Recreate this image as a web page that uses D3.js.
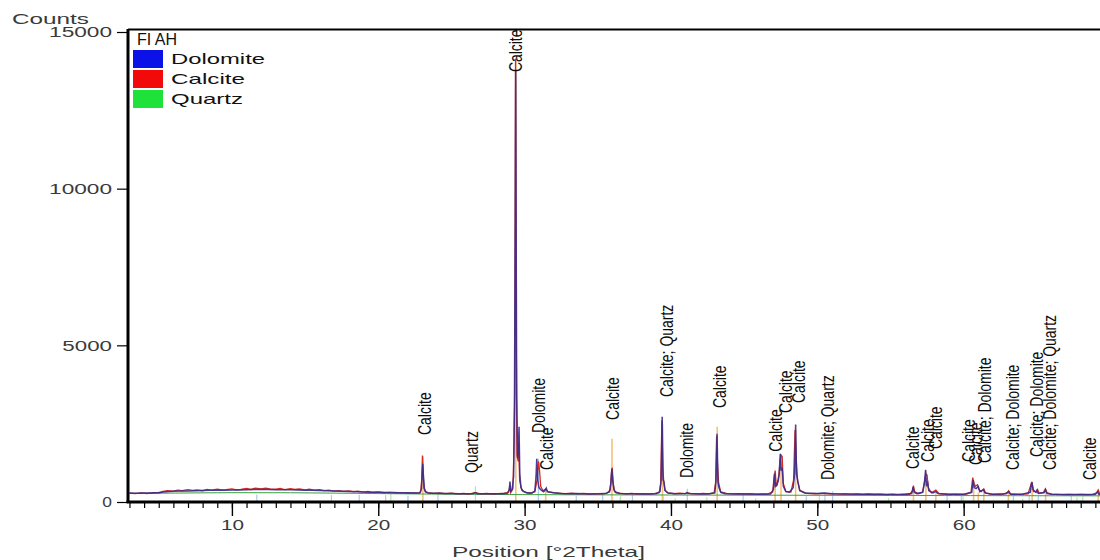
<!DOCTYPE html>
<html>
<head>
<meta charset="utf-8">
<script src="https://cdn.jsdelivr.net/npm/d3@7"></script>
<style>
  html, body { margin: 0; padding: 0; background: #fff; }
  svg { display: block; }
</style>
</head>
<body>
<svg id="chart" width="1100" height="560"></svg>
<script>
// ---- Scan data: [2Theta, counts] ----
// Raw measured counts (noisy scan)
const scanPoints = [
  [3.0,280],[3.4,265],[3.8,290],[4.2,270],[4.6,300],[5.0,285],[5.3,340],[5.6,365],[6.0,350],[6.3,380],
  [6.6,360],[7.0,395],[7.3,370],[7.6,385],[8.0,360],[8.3,400],[8.6,380],[9.0,410],[9.3,385],[9.6,395],
  [10.0,420],[10.3,390],[10.6,405],[11.0,430],[11.3,400],[11.6,445],[12.0,415],[12.3,440],[12.6,420],[13.0,410],
  [13.3,435],[13.6,395],[14.0,425],[14.3,400],[14.6,415],[15.0,385],[15.3,410],[15.6,380],[16.0,395],[16.3,365],
  [16.6,380],[17.0,350],[17.3,365],[17.6,340],[18.0,355],[18.3,330],[18.6,345],[19.0,315],[19.3,335],[19.6,305],
  [20.0,320],[20.4,295],[20.8,310],[21.2,285],[21.6,300],[22.0,280],[22.4,290],[22.8,285],
  [22.9,320],[22.97,700],[23.02,1480],[23.07,900],[23.12,450],[23.2,330],[23.4,300],
  [23.8,275],[24.2,290],[24.6,265],[25.0,280],[25.4,260],[25.8,275],[26.2,255],[26.6,300],[27.0,260],[27.4,275],
  [27.8,255],[28.2,270],[28.6,280],[28.9,300],[29.0,520],[29.05,300],[29.2,420],[29.28,1800],[29.33,3450],[29.38,14150],
  [29.43,5200],[29.48,1500],[29.56,1300],[29.6,1900],[29.66,700],[29.8,380],[30.1,300],[30.4,280],[30.7,330],[30.85,700],
  [30.95,1300],[31.02,1000],[31.1,500],[31.25,360],[31.45,420],[31.6,320],[31.9,300],[32.3,280],[32.8,265],[33.2,280],
  [33.6,260],[34.0,275],[34.4,255],[34.8,270],[35.2,260],[35.6,275],[35.85,380],[35.93,900],[35.99,1100],[36.05,600],
  [36.15,330],[36.5,280],[36.9,260],[37.3,275],[37.7,255],[38.1,270],[38.5,255],[38.9,275],[39.2,300],[39.3,600],
  [39.38,2600],[39.44,1100],[39.5,700],[39.58,380],[39.8,290],[40.2,270],[40.6,280],[41.0,265],[41.1,300],[41.4,270],
  [41.8,260],[42.2,275],[42.6,260],[42.95,300],[43.05,600],[43.12,2100],[43.18,1200],[43.26,600],[43.4,320],[43.8,275],
  [44.2,260],[44.6,270],[45.0,255],[45.4,268],[45.8,250],[46.2,262],[46.6,255],[46.95,320],[47.05,800],[47.12,1000],
  [47.2,500],[47.35,700],[47.45,1300],[47.52,1500],[47.6,1450],[47.67,600],[47.85,340],[48.2,320],[48.38,700],[48.48,2300],
  [48.55,1400],[48.65,700],[48.8,380],[49.1,290],[49.5,270],[49.9,260],[50.3,275],[50.7,262],[51.1,270],[51.5,250],
  [51.9,262],[52.3,245],[52.7,258],[53.1,242],[53.5,255],[53.9,240],[54.3,252],[54.7,238],[55.1,250],[55.5,236],
  [55.9,248],[56.3,240],[56.5,350],[56.57,520],[56.65,330],[56.9,260],[57.2,320],[57.34,700],[57.42,900],[57.5,860],
  [57.58,450],[57.8,290],[58.1,380],[58.3,270],[58.6,255],[59.0,245],[59.4,250],[59.8,242],[60.2,250],[60.5,300],
  [60.62,780],[60.7,600],[60.8,500],[60.95,550],[61.05,400],[61.2,330],[61.38,420],[61.5,290],[61.8,250],[62.2,245],
  [62.6,240],[63.0,300],[63.08,360],[63.2,260],[63.6,245],[64.0,250],[64.4,260],[64.6,560],[64.68,600],[64.78,330],
  [64.95,330],[65.05,400],[65.15,280],[65.45,300],[65.58,420],[65.68,300],[66.0,250],[66.4,245],[66.8,238],[67.2,245],
  [67.6,235],[68.0,240],[68.4,232],[68.8,238],[69.1,300],[69.2,380],[69.3,260],[69.6,235],[70.0,230]
];

// Fitted profile
const profilePoints = [
  [3.0,285],[3.5,280],[4.0,290],[4.5,288],[5.0,300],[5.5,325],[6.0,345],[6.5,350],[7.0,355],[7.5,362],
  [8.0,366],[8.5,372],[9.0,378],[9.5,375],[10.0,382],[10.5,386],[11.0,392],[11.5,396],[12.0,402],[12.5,400],
  [13.0,394],[13.5,392],[14.0,388],[14.5,384],[15.0,378],[15.5,372],[16.0,365],[16.5,358],[17.0,350],[17.5,343],
  [18.0,336],[18.5,328],[19.0,320],[19.5,315],[20.0,308],[20.5,303],[21.0,300],[21.5,296],[22.0,293],[22.5,290],
  [22.85,295],[22.95,420],[23.0,900],[23.04,1220],[23.09,800],[23.15,440],[23.25,320],[23.4,290],[23.6,282],[24.0,280],
  [24.5,272],[25.0,270],[25.5,266],[26.0,264],[26.5,270],[26.64,300],[26.8,266],[27.0,262],[27.5,260],[28.0,262],
  [28.5,266],[28.8,280],[28.95,380],[29.0,650],[29.05,350],[29.15,400],[29.25,820],[29.31,3450],[29.36,9000],[29.39,13800],
  [29.42,9000],[29.46,3300],[29.52,1400],[29.58,1800],[29.62,2400],[29.67,900],[29.75,460],[29.9,340],[30.2,290],[30.5,285],
  [30.7,350],[30.78,800],[30.83,1380],[30.9,700],[30.98,460],[31.1,390],[31.3,330],[31.42,390],[31.48,440],[31.55,330],
  [31.8,310],[32.0,295],[32.5,275],[33.0,266],[33.5,270],[34.0,262],[34.5,258],[35.0,260],[35.5,268],[35.8,320],
  [35.9,620],[35.96,1060],[36.02,700],[36.1,390],[36.25,295],[36.5,275],[37.0,266],[37.5,262],[38.0,258],[38.5,255],
  [39.0,265],[39.25,330],[39.33,700],[39.4,2720],[39.46,700],[39.52,650],[39.6,360],[39.8,285],[40.3,265],[41.0,272],
  [41.1,300],[41.2,268],[42.0,258],[42.5,254],[43.0,290],[43.08,700],[43.15,2180],[43.21,650],[43.28,460],[43.4,310],
  [43.7,266],[44.5,256],[45.0,252],[46.0,248],[46.8,252],[47.0,400],[47.08,900],[47.14,500],[47.25,550],[47.4,900],
  [47.47,1540],[47.53,1000],[47.6,1100],[47.68,500],[47.85,330],[48.1,310],[48.35,460],[48.45,900],[48.52,2470],[48.58,900],
  [48.67,650],[48.8,360],[49.2,290],[50.0,270],[50.5,285],[51.0,265],[52.0,252],[53.0,248],[54.0,244],[55.0,242],
  [56.0,244],[56.45,270],[56.55,480],[56.62,310],[56.8,268],[57.2,310],[57.32,600],[57.4,1025],[57.46,500],[57.55,600],
  [57.62,360],[57.9,290],[58.1,330],[58.25,270],[59.0,250],[60.0,246],[60.55,310],[60.65,700],[60.72,460],[60.85,430],
  [61.0,490],[61.1,330],[61.35,390],[61.45,290],[62.0,250],[62.9,260],[63.05,330],[63.2,250],[64.0,246],[64.55,310],
  [64.65,640],[64.75,390],[64.95,310],[65.0,360],[65.1,270],[65.5,300],[65.6,390],[65.7,270],[66.0,250],[67.0,242],
  [68.0,238],[69.0,236],[69.15,330],[69.25,240],[70.0,232]
];

// Fitted background
const backgroundPoints = [
  [3,270],[6,285],[10,300],[14,298],[18,280],[22,258],[28,238],[35,228],[45,218],[55,210],[65,200],[70,196]
];

// Reference patterns: [2Theta, scaled intensity]
const calciteSticks = [
  [23.05,1460],[29.40,14150],[31.44,420],[35.97,2020],[39.42,2500],[43.16,2400],[47.12,850],[47.52,1500],
  [48.52,2300],[56.57,450],[57.42,1000],[58.10,280],[60.68,700],[61.00,300],[61.38,330],[63.06,300],
  [64.68,620],[65.60,380],[69.20,400]
];
const dolomiteSticks = [
  [11.7,240],[16.8,220],[18.7,230],[20.5,220],[22.03,200],[24.08,260],[30.94,1380],[33.53,200],[35.33,230],
  [37.37,240],[41.12,420],[44.93,260],[49.25,180],[50.52,300],[51.05,340],[58.87,200],[59.84,220],
  [63.40,180],[64.48,180],[65.10,200],[67.35,190]
];
const quartzSticks = [
  [20.86,260],[26.64,500],[36.54,180],[39.47,180],[40.29,120],[42.45,150],[45.79,120],[50.14,250],
  [54.87,120],[59.96,180],[64.04,100],[67.74,150],[68.14,180]
];

// Peak annotations: [2Theta, text, counts at the foot of the label]
const peakLabels = [
  [23.18,"Calcite",2140],[26.39,"Quartz",925],[29.40,"Calcite",13720],[30.97,"Dolomite",2200],
  [31.52,"Calcite",1020],[36.02,"Calcite",2620],[39.71,"Calcite; Quartz",3350],[41.08,"Dolomite",765],
  [43.33,"Calcite",3000],[47.16,"Calcite",1600],[47.84,"Calcite",2840],[48.73,"Calcite",3160],
  [50.71,"Dolomite; Quartz",700],[56.52,"Calcite",1050],[57.54,"Calcite",1280],[58.09,"Calcite",1690],
  [60.34,"Calcite",1280],[60.82,"Calcite",1180],[61.43,"Calcite; Dolomite",1245],[63.35,"Calcite; Dolomite",1020],
  [64.99,"Calcite; Dolomite",1435],[65.87,"Calcite; Dolomite; Quartz",1020],[68.62,"Calcite",700]
];

// Axis ticks and legend
const yTickValues = [0, 5000, 10000, 15000];
const xMajorTicks = [10, 20, 30, 40, 50, 60];
const xMinorTicks = d3.range(3, 71, 1);
const legendTitle = "FI AH";
const legendNames = ["Dolomite", "Calcite", "Quartz"];
const legendColors = ["#0a12e8", "#f20a0a", "#1ee23a"];

// ---- Drawing ----
const svg = d3.select("#chart");
const plotLeft = 128, plotRight = 1110, plotTop = 30, plotBottom = 502;
const x = d3.scaleLinear().domain([2.9, 70]).range([plotLeft, plotRight]);
const y = d3.scaleLinear().domain([0, 15000]).range([plotBottom, 32]);

const uiFont = "'Liberation Sans', Arial, sans-serif";
// width of a label in the wide UI font: glyph ~9.7px, gap ~3.7px
const digitWidth = s => s.length * 13.33 - 3.67;

svg.append("defs").append("clipPath").attr("id", "plotClip")
  .append("rect").attr("x", plotLeft).attr("y", plotTop)
  .attr("width", 1100 - plotLeft).attr("height", plotBottom - plotTop);

const plot = svg.append("g").attr("clip-path", "url(#plotClip)");

// reference sticks
function drawSticks(data, color, width) {
  plot.append("g").selectAll("line").data(data).join("line")
    .attr("x1", d => x(d[0])).attr("x2", d => x(d[0]))
    .attr("y1", y(0)).attr("y2", d => y(d[1]))
    .attr("stroke", color).attr("stroke-width", width);
}
drawSticks(dolomiteSticks, "#a9cdef", 1.2);
drawSticks(quartzSticks, "#b3e6ad", 1.2);
drawSticks(calciteSticks, "#f3c27a", 1.6);

const line = d3.line().x(d => x(d[0])).y(d => y(d[1]));

plot.append("path").datum(backgroundPoints)
  .attr("d", d3.line().x(d => x(d[0])).y(d => y(d[1])).curve(d3.curveBasis))
  .attr("fill", "none").attr("stroke", "#3aa040").attr("stroke-width", 1);

plot.append("path").datum(scanPoints).attr("d", line)
  .attr("fill", "none").attr("stroke", "#d42a20").attr("stroke-width", 1.3);

plot.append("path").datum(profilePoints).attr("d", line)
  .attr("fill", "none").attr("stroke", "#3b2c8c").attr("stroke-width", 1.5).attr("stroke-opacity", 0.92);

// peak annotations, rotated and condensed
const labels = svg.append("g").selectAll("text").data(peakLabels).join("text")
  .attr("transform", d => `translate(${x(d[0])},${y(d[2])}) rotate(-90)`)
  .attr("dy", "0.36em")
  .style("font-family", uiFont).style("font-size", "18px").attr("fill", "#0d0d0d")
  .text(d => d[1]);
labels.each(function () {
  const w = this.getComputedTextLength();
  d3.select(this).attr("textLength", (w * 0.775).toFixed(1)).attr("lengthAdjust", "spacingAndGlyphs");
});

// frame
svg.append("line").attr("x1", plotLeft).attr("x2", 1100).attr("y1", 29.5).attr("y2", 29.5)
  .attr("stroke", "#000").attr("stroke-width", 2);

// y axis
const yAxis = svg.append("g").attr("transform", `translate(${plotLeft},0)`)
  .call(d3.axisLeft(y).tickValues(yTickValues).tickSize(11).tickSizeOuter(0).tickPadding(5).tickFormat(d3.format("d")));
yAxis.select(".domain").attr("stroke", "#000").attr("stroke-width", 3)
  .attr("d", `M0,${plotTop - 1}V${plotBottom}`);
yAxis.selectAll(".tick line").attr("stroke", "#000").attr("stroke-width", 1.2);
yAxis.selectAll(".tick text")
  .style("font-family", uiFont).style("font-size", "15px").attr("fill", "#3a3a3a")
  .attr("textLength", d => digitWidth(String(d))).attr("lengthAdjust", "spacingAndGlyphs");

// x axis: minor ticks
const xMinor = svg.append("g").attr("transform", `translate(0,${plotBottom})`)
  .call(d3.axisBottom(x).tickValues(xMinorTicks).tickSize(6).tickSizeOuter(0).tickFormat(""));
xMinor.select(".domain").remove();
xMinor.selectAll(".tick line").attr("stroke", "#000").attr("stroke-width", 1.2);

// x axis: major ticks with labels
const xAxis = svg.append("g").attr("transform", `translate(0,${plotBottom})`)
  .call(d3.axisBottom(x).tickValues(xMajorTicks).tickSize(14).tickSizeOuter(0).tickPadding(3).tickFormat(d3.format("d")));
xAxis.select(".domain").attr("stroke", "#000").attr("stroke-width", 3)
  .attr("d", `M${plotLeft - 1.5},0H1100`);
xAxis.selectAll(".tick line").attr("stroke", "#000").attr("stroke-width", 1.4);
xAxis.selectAll(".tick text")
  .style("font-family", uiFont).style("font-size", "15px").attr("fill", "#3a3a3a")
  .attr("textLength", d => digitWidth(String(d))).attr("lengthAdjust", "spacingAndGlyphs");

// axis titles
svg.append("text").attr("x", 12).attr("y", 24)
  .style("font-family", uiFont).style("font-size", "15px").attr("fill", "#3a3a3a")
  .attr("textLength", 77).attr("lengthAdjust", "spacingAndGlyphs").text("Counts");
svg.append("text").attr("x", 452).attr("y", 557)
  .style("font-family", uiFont).style("font-size", "15px").attr("fill", "#3a3a3a")
  .attr("textLength", 193).attr("lengthAdjust", "spacingAndGlyphs").text("Position [°2Theta]");

// legend
const legend = svg.append("g");
legend.append("text").attr("x", 137).attr("y", 45)
  .style("font-family", uiFont).style("font-size", "16px").attr("fill", "#111")
  .attr("textLength", 40).attr("lengthAdjust", "spacingAndGlyphs").text(legendTitle);
const legendWidths = [94, 74, 72];
const items = legend.selectAll("g.item").data(legendNames).join("g")
  .attr("transform", (d, i) => `translate(133,${50 + i * 20})`);
items.append("rect").attr("width", 30).attr("height", 18).attr("fill", (d, i) => legendColors[i]);
items.append("text").attr("x", 38).attr("y", 14)
  .style("font-family", uiFont).style("font-size", "15px").attr("fill", "#111")
  .attr("textLength", (d, i) => legendWidths[i]).attr("lengthAdjust", "spacingAndGlyphs")
  .text(d => d);
</script>
</body>
</html>
